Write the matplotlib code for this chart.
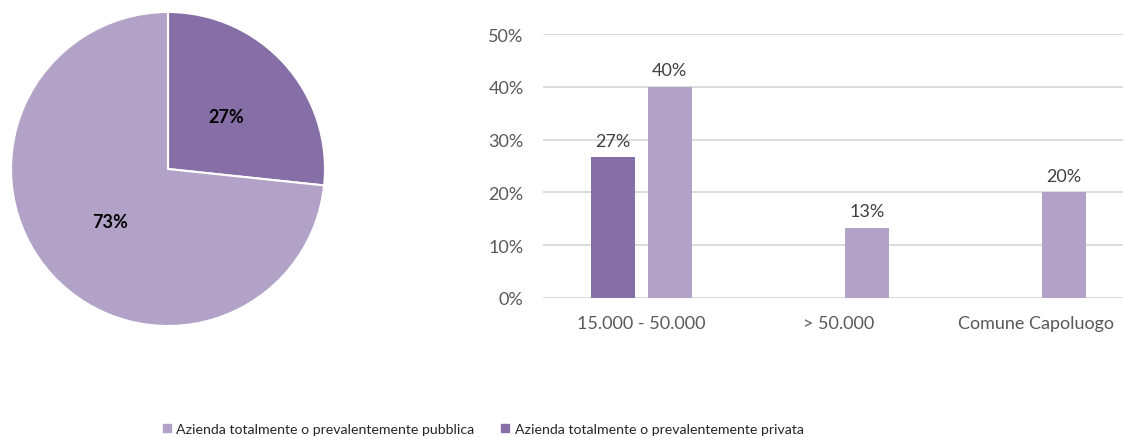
import numpy as np
import matplotlib
matplotlib.use("Agg")
import matplotlib.pyplot as plt
from matplotlib.patches import Patch

# ── data ──────────────────────────────────────────────────────────────────────
pie_labels = ["Azienda totalmente o prevalentemente privata",
              "Azienda totalmente o prevalentemente pubblica"]
pie_values = [26.67, 73.33]

categories = ["15.000 - 50.000", "> 50.000", "Comune Capoluogo"]
privata = [26.67, 0.0, 0.0]
pubblica = [40.0, 13.33, 20.0]
yticks = [0, 10, 20, 30, 40, 50]

# ── style ─────────────────────────────────────────────────────────────────────
C_DARK = "#866EA6"
C_LIGHT = "#B2A2C8"
GRAY_TXT = "#595959"
GRID = "#D9D9D9"
plt.rcParams["font.family"] = ["Lato", "DejaVu Sans"]

fig = plt.figure(figsize=(11.23, 4.39), dpi=100)

# ── pie ───────────────────────────────────────────────────────────────────────
ax_pie = fig.add_axes([11 / 1123, 112 / 439, 314 / 1123, 314 / 439])
wedges, _, autotexts = ax_pie.pie(
    pie_values, colors=[C_DARK, C_LIGHT], startangle=90, counterclock=False,
    autopct=lambda p: f"{p:.0f}%", pctdistance=0.5,
    wedgeprops=dict(edgecolor="white", linewidth=1.5),
)
for t in autotexts:
    t.set_fontsize(13)
    t.set_fontweight("bold")
    t.set_color("black")
ax_pie.set_xlim(-1.0, 1.0)
ax_pie.set_ylim(-1.0, 1.0)
ax_pie.set_aspect("equal")

# ── bars ──────────────────────────────────────────────────────────────────────
ax = fig.add_axes([543 / 1123, 140 / 439, 591 / 1123, 264 / 439])
x = np.arange(len(categories))
w = 0.223
off = 0.144
b1 = ax.bar(x - off, privata, w, color=C_DARK)
b2 = ax.bar(x + off, pubblica, w, color=C_LIGHT)
for bars, vals in [(b1, privata), (b2, pubblica)]:
    for rect, v in zip(bars, vals):
        if v > 0:
            ax.text(rect.get_x() + rect.get_width() / 2, v + 1.6, f"{v:.0f}%",
                    ha="center", va="bottom", fontsize=13, color="#404040")

ax.set_xlim(-0.5, 2.5)
ax.set_ylim(0, 50)
ax.set_yticks(yticks)
ax.set_yticklabels([f"{t}%" for t in yticks])
ax.set_xticks(x)
ax.set_xticklabels(categories)
ax.yaxis.grid(True, color=GRID, linewidth=1.3)
ax.set_axisbelow(True)
for s in ax.spines.values():
    s.set_visible(False)
ax.tick_params(length=0, labelsize=13, labelcolor=GRAY_TXT)
ax.tick_params(axis="y", pad=14)
ax.tick_params(axis="x", pad=12)

# ── legend ────────────────────────────────────────────────────────────────────
handles = [Patch(color=C_LIGHT), Patch(color=C_DARK)]
fig.legend(handles, [pie_labels[1], pie_labels[0]], ncol=2, frameon=False,
           loc="lower left", bbox_to_anchor=(150 / 1123, -0.022),
           handlelength=0.55, handleheight=0.55, handletextpad=0.4,
           columnspacing=1.9, fontsize=10.2, labelcolor="#262626")

fig.savefig("out.png", dpi=100)
